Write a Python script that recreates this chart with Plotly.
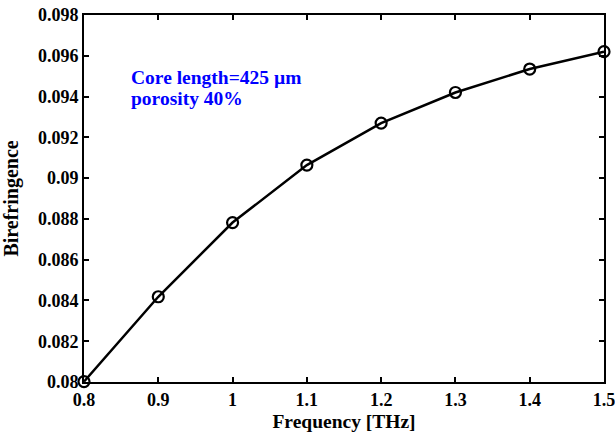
import plotly.graph_objects as go

freq = [0.8, 0.9, 1.0, 1.1, 1.2, 1.3, 1.4, 1.5]
biref = [0.08002, 0.08418, 0.08782, 0.09064, 0.09270, 0.09420, 0.09535, 0.09620]

x_tickvals = [0.8, 0.9, 1.0, 1.1, 1.2, 1.3, 1.4, 1.5]
x_ticktext = ["0.8", "0.9", "1", "1.1", "1.2", "1.3", "1.4", "1.5"]
y_tickvals = [0.080, 0.082, 0.084, 0.086, 0.088, 0.090, 0.092, 0.094, 0.096, 0.098]
y_ticktext = ["0.08", "0.082", "0.084", "0.086", "0.088", "0.09", "0.092", "0.094", "0.096", "0.098"]
note_lines = ["Core length=425 µm", "porosity 40%"]

font_family = "Liberation Serif"

fig = go.Figure()
fig.add_trace(go.Scatter(
    x=freq, y=biref, mode="lines+markers",
    line=dict(color="black", width=2.5),
    marker=dict(symbol="circle-open", size=11, color="black", line=dict(width=2.2, color="black")),
    cliponaxis=False, showlegend=False,
))

axis_common = dict(
    showline=True, linecolor="black", linewidth=2, mirror="ticks",
    ticks="inside", ticklen=5, tickwidth=1.5, tickcolor="black",
    showgrid=False, zeroline=False, automargin=False,
    ticklabeloverflow="allow",
    tickfont=dict(family=font_family, size=18, color="black"),
)

fig.update_xaxes(range=[0.8, 1.5], tickvals=x_tickvals,
                 ticktext=["<b>%s</b>" % t for t in x_ticktext],
                 title=dict(text="<b>Frequency [THz]</b>", font=dict(family=font_family, size=19.5, color="black")),
                 **axis_common)
fig.update_yaxes(range=[0.080, 0.098], tickvals=y_tickvals,
                 ticktext=["<b>%s</b>" % t for t in y_ticktext],
                 title=dict(text="<b>Birefringence</b>", font=dict(family=font_family, size=20, color="black")),
                 **axis_common)

for i, line in enumerate(note_lines):
    fig.add_annotation(
        xref="paper", yref="paper", x=(129 - 84) / 520, y=(381.7 - (77 + 21 * i)) / 366.7,
        xanchor="left", yanchor="middle", align="left", showarrow=False,
        text="<b>%s</b>" % line,
        font=dict(family=font_family, size=19.5, color="#0000ff"),
    )

fig.update_layout(
    width=615, height=432,
    margin=dict(l=84, r=11, t=15, b=50),
    plot_bgcolor="white", paper_bgcolor="white",
)

fig.write_html("out.html")
